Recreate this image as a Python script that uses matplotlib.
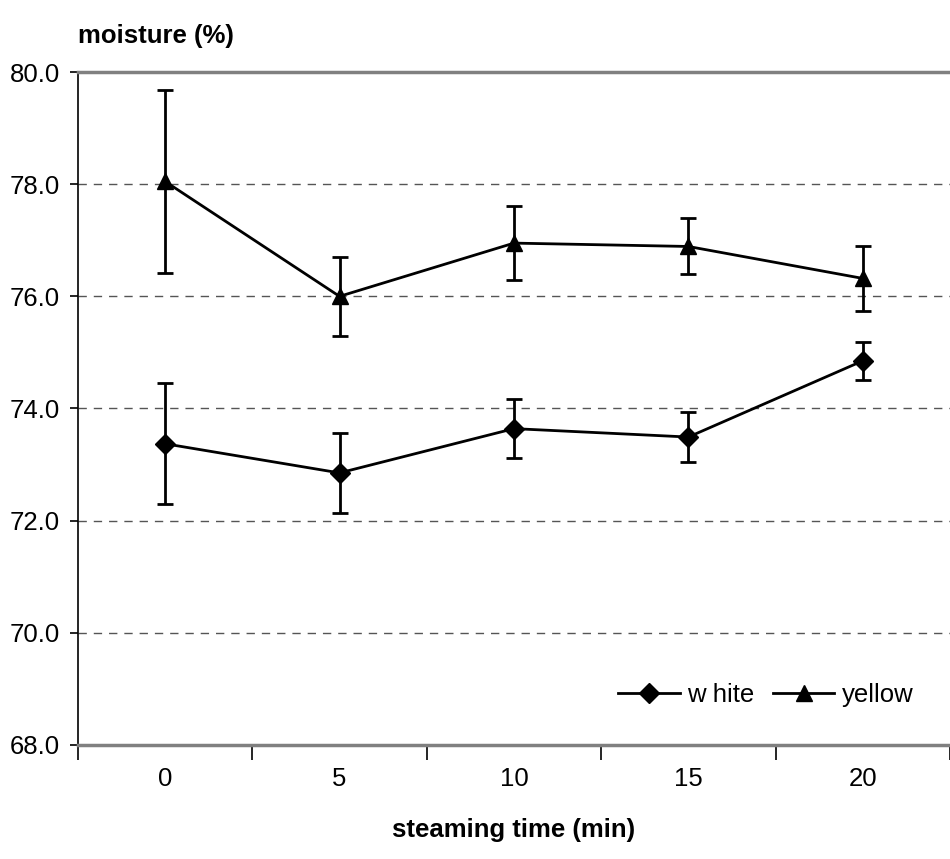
import matplotlib.pyplot as plt
from matplotlib.lines import Line2D
import numpy as np

plt.rcParams['font.family'] = ['Liberation Sans', 'DejaVu Sans']

# Data
times = ['0', '5', '10', '15', '20']
white = [73.37, 72.85, 73.64, 73.49, 74.85]
white_err = [1.08, 0.71, 0.53, 0.45, 0.34]
yellow = [78.05, 76.0, 76.95, 76.89, 76.32]
yellow_err = [1.63, 0.71, 0.66, 0.50, 0.58]

x = np.arange(len(times))

fig = plt.figure(figsize=(9.5, 8.59), dpi=100)
ax = fig.add_axes([0.082, 0.133, 0.918, 0.783])

ax.errorbar(x, white, yerr=white_err, color='black', marker='D', markersize=10,
            linewidth=2, elinewidth=2, capsize=6, capthick=2, zorder=3)
ax.errorbar(x, yellow, yerr=yellow_err, color='black', marker='^', markersize=12,
            linewidth=2, elinewidth=2, capsize=6, capthick=2, zorder=3)

ax.set_xlim(-0.5, 4.5)
ax.set_ylim(68, 80)
yt = [68, 70, 72, 74, 76, 78, 80]
ax.set_yticks(yt)
ax.set_yticklabels([f'{v:.1f}' for v in yt], fontsize=18.5)

# category axis: ticks between categories, labels at centres
ax.set_xticks(np.arange(-0.5, 5, 1))
ax.set_xticklabels([])
ax.set_xticks(x, minor=True)
ax.set_xticklabels(times, minor=True, fontsize=18.5)
ax.tick_params(axis='x', which='major', length=11, width=1.2, direction='out')
ax.tick_params(axis='x', which='minor', length=0, pad=16)
ax.tick_params(axis='y', length=6, width=1.2, direction='out', pad=7)

for v in [70, 72, 74, 76, 78]:
    ax.axhline(v, color='#555555', linestyle=(0, (6, 5)), linewidth=1, zorder=1)

ax.spines['right'].set_visible(False)
ax.spines['top'].set_color('#808080')
ax.spines['top'].set_linewidth(2.5)
ax.spines['bottom'].set_color('#808080')
ax.spines['bottom'].set_linewidth(2.5)
ax.spines['left'].set_color('black')
ax.spines['left'].set_linewidth(1.2)

fig.text(0.082, 0.958, 'moisture (%)', fontsize=18.5, fontweight='bold', ha='left', va='center')
fig.text(0.541, 0.034, 'steaming time (min)', fontsize=18.5, fontweight='bold', ha='center', va='center')

handles = [Line2D([], [], color='black', marker='D', markersize=10, linewidth=2),
           Line2D([], [], color='black', marker='^', markersize=12, linewidth=2)]
ax.legend(handles, ['w hite', 'yellow'], loc='lower right', bbox_to_anchor=(0.985, 0.022),
          ncol=2, frameon=False, fontsize=18.5, handlelength=2.4, handletextpad=0.3,
          columnspacing=0.7)

fig.savefig('out.png', dpi=100)
